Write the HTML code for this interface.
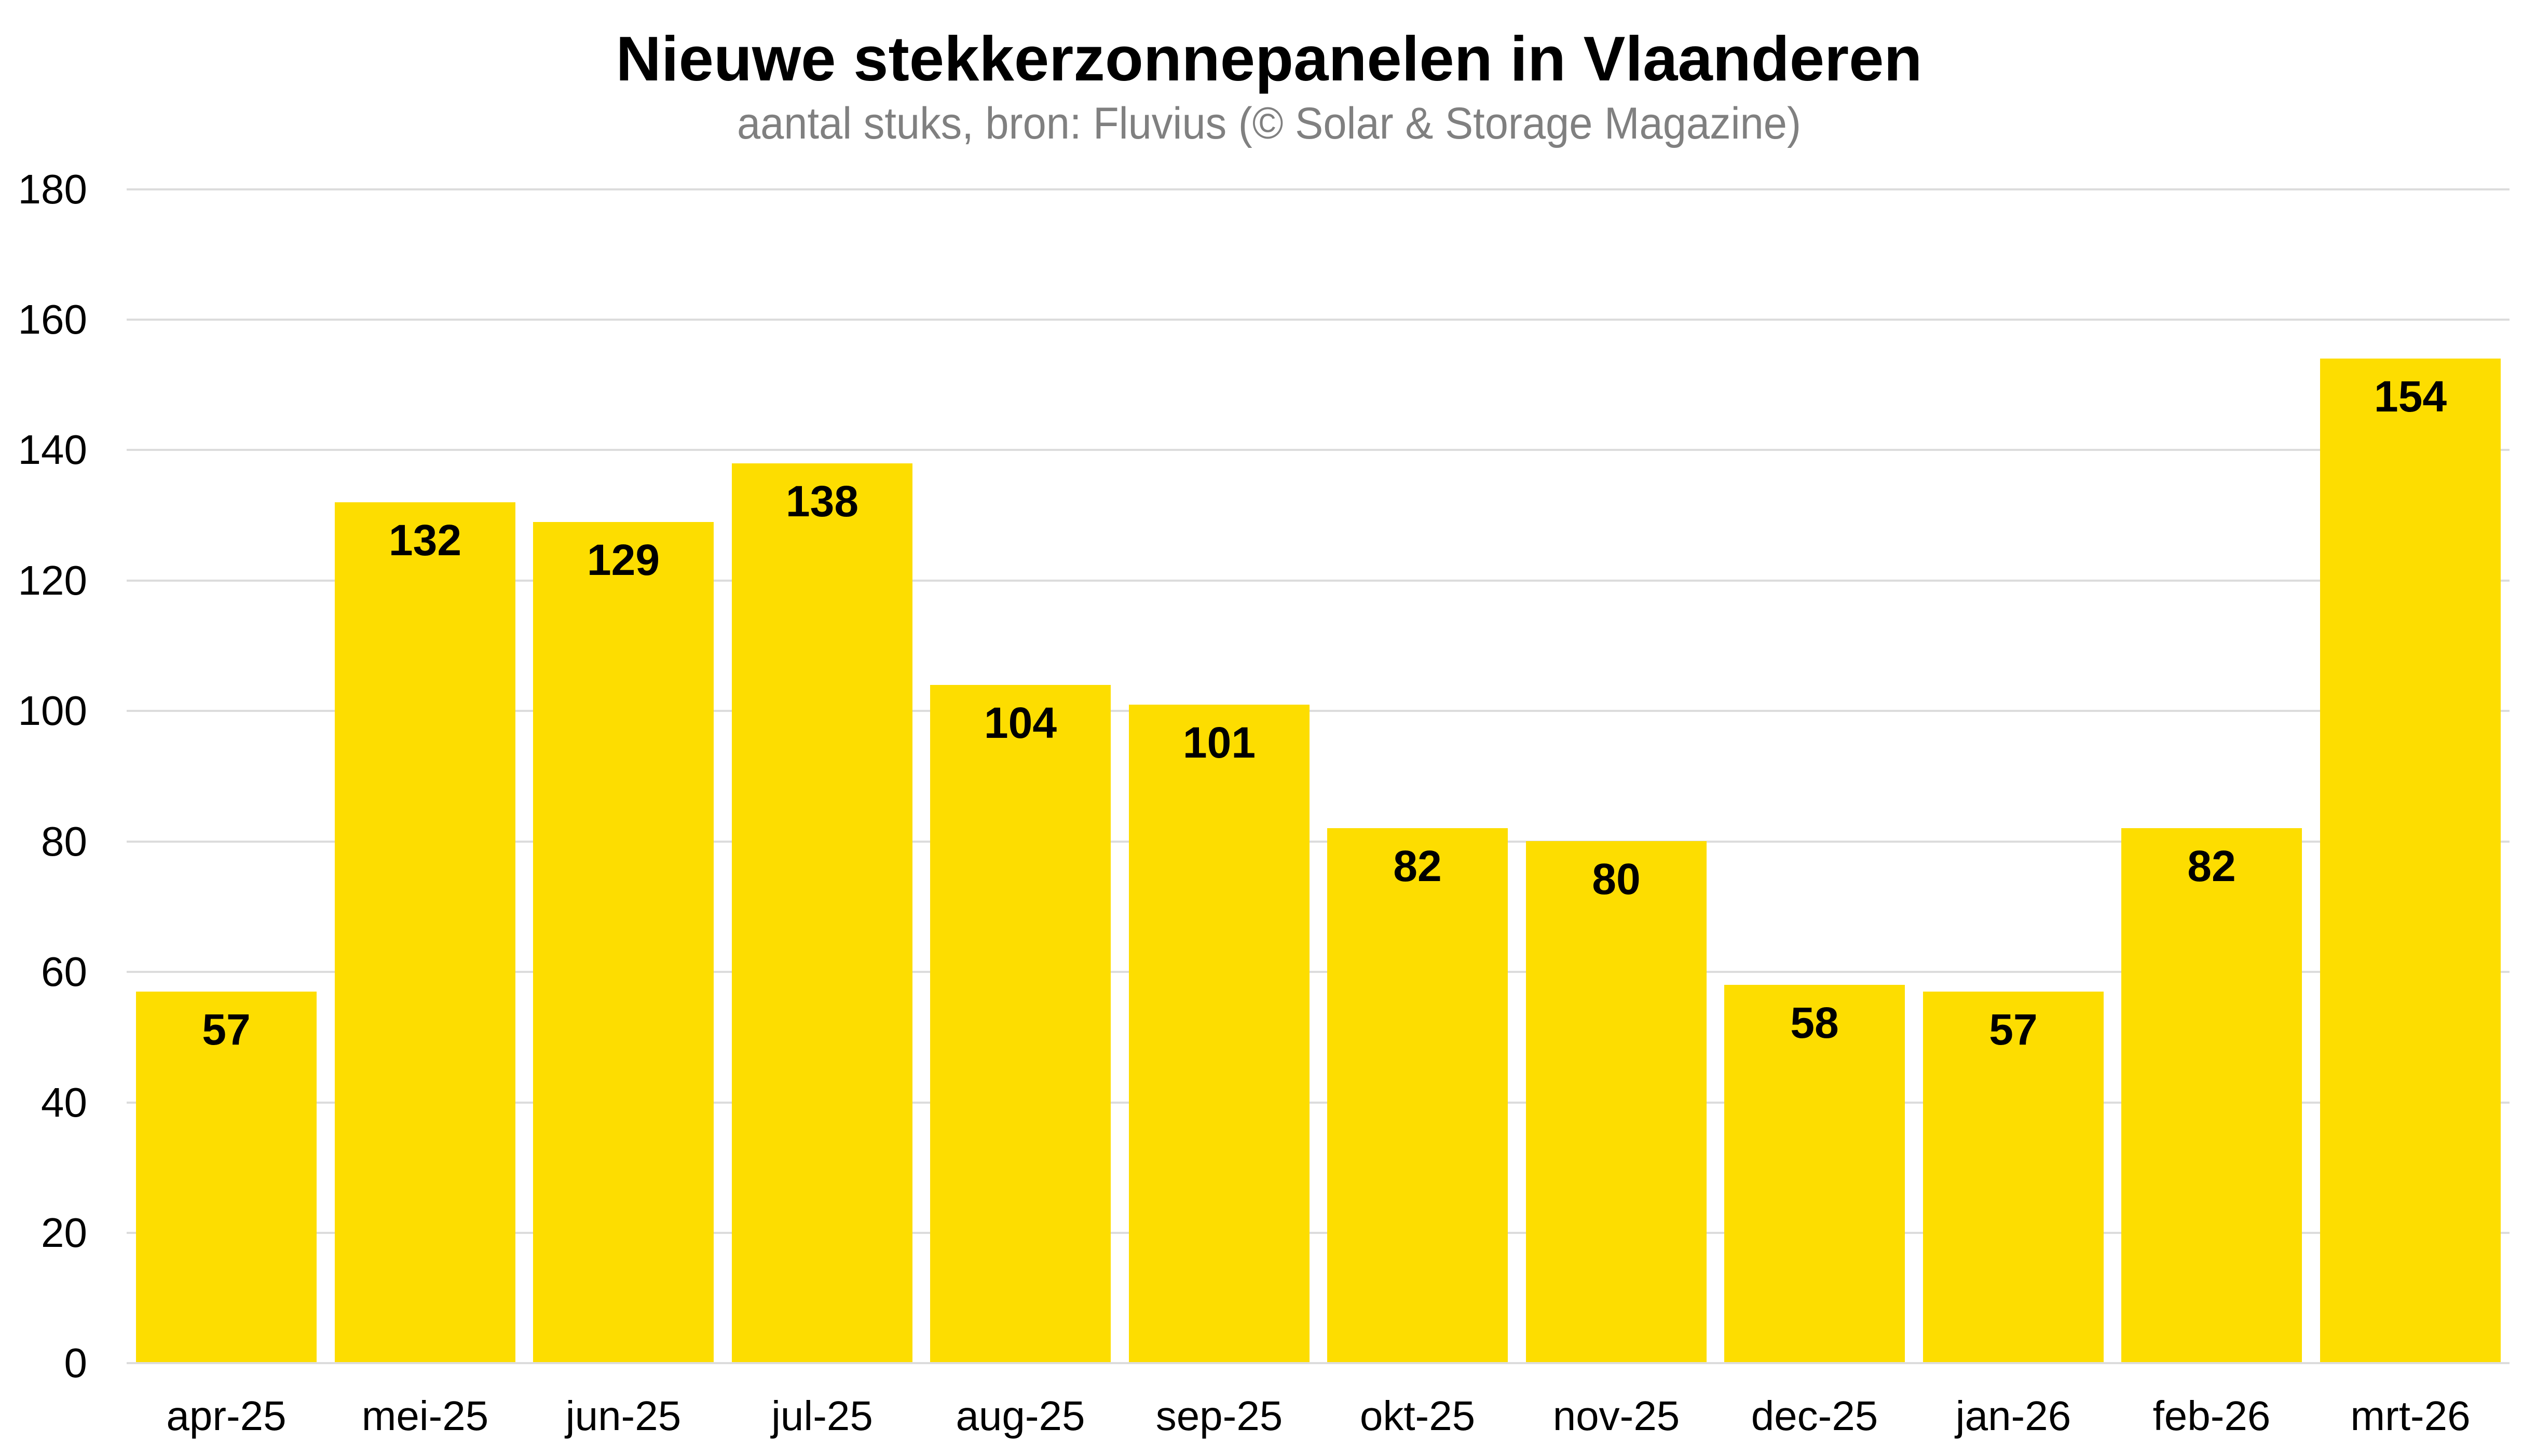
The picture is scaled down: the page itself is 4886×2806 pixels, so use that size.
<!DOCTYPE html>
<html><head><meta charset="utf-8"><style>
html,body{margin:0;padding:0;background:#fff;}
svg{display:block}
text{font-family:"Liberation Sans",Arial,sans-serif}
</style></head><body>
<svg width="4886" height="2806" viewBox="0 0 4886 2806" xmlns="http://www.w3.org/2000/svg">
<rect width="4886" height="2806" fill="#fff"/>
<text x="2445" y="155" text-anchor="middle" font-size="122" font-weight="bold" fill="#000" textLength="2517" lengthAdjust="spacingAndGlyphs">Nieuwe stekkerzonnepanelen in Vlaanderen</text>
<text x="2445" y="267" text-anchor="middle" font-size="86" fill="#808080" textLength="2050" lengthAdjust="spacingAndGlyphs">aantal stuks, bron: Fluvius (© Solar &amp; Storage Magazine)</text>
<g stroke="#dcdcdc" stroke-width="4">
<line x1="244" x2="4835" y1="365" y2="365"/>
<line x1="244" x2="4835" y1="616" y2="616"/>
<line x1="244" x2="4835" y1="867" y2="867"/>
<line x1="244" x2="4835" y1="1119" y2="1119"/>
<line x1="244" x2="4835" y1="1370" y2="1370"/>
<line x1="244" x2="4835" y1="1622" y2="1622"/>
<line x1="244" x2="4835" y1="1873" y2="1873"/>
<line x1="244" x2="4835" y1="2125" y2="2125"/>
<line x1="244" x2="4835" y1="2376" y2="2376"/>
<line x1="244" x2="4835" y1="2627" y2="2627"/>
</g>
<g font-size="80" fill="#000" text-anchor="end">
<text x="168" y="392">180</text>
<text x="168" y="643">160</text>
<text x="168" y="894">140</text>
<text x="168" y="1146">120</text>
<text x="168" y="1397">100</text>
<text x="168" y="1649">80</text>
<text x="168" y="1900">60</text>
<text x="168" y="2152">40</text>
<text x="168" y="2403">20</text>
<text x="168" y="2654">0</text>
</g>
<g fill="#fddd00">
<rect x="262" y="1911" width="348" height="714"/>
<rect x="645" y="968" width="348" height="1657"/>
<rect x="1027" y="1006" width="348" height="1619"/>
<rect x="1410" y="893" width="348" height="1732"/>
<rect x="1792" y="1320" width="348" height="1305"/>
<rect x="2175" y="1358" width="348" height="1267"/>
<rect x="2557" y="1596" width="348" height="1029"/>
<rect x="2940" y="1621" width="348" height="1004"/>
<rect x="3322" y="1898" width="348" height="727"/>
<rect x="3705" y="1911" width="348" height="714"/>
<rect x="4087" y="1596" width="348" height="1029"/>
<rect x="4470" y="691" width="348" height="1934"/>
</g>
<g font-size="84" font-weight="bold" fill="#000" text-anchor="middle">
<text x="436" y="2013">57</text>
<text x="819" y="1070">132</text>
<text x="1201" y="1108">129</text>
<text x="1584" y="995">138</text>
<text x="1966" y="1422">104</text>
<text x="2349" y="1460">101</text>
<text x="2731" y="1698">82</text>
<text x="3114" y="1723">80</text>
<text x="3496" y="2000">58</text>
<text x="3879" y="2013">57</text>
<text x="4261" y="1698">82</text>
<text x="4644" y="793">154</text>
</g>
<g font-size="80" fill="#000" text-anchor="middle">
<text x="436" y="2756">apr-25</text>
<text x="819" y="2756">mei-25</text>
<text x="1201" y="2756">jun-25</text>
<text x="1584" y="2756">jul-25</text>
<text x="1966" y="2756">aug-25</text>
<text x="2349" y="2756">sep-25</text>
<text x="2731" y="2756">okt-25</text>
<text x="3114" y="2756">nov-25</text>
<text x="3496" y="2756">dec-25</text>
<text x="3879" y="2756">jan-26</text>
<text x="4261" y="2756">feb-26</text>
<text x="4644" y="2756">mrt-26</text>
</g>
</svg>
</body></html>
